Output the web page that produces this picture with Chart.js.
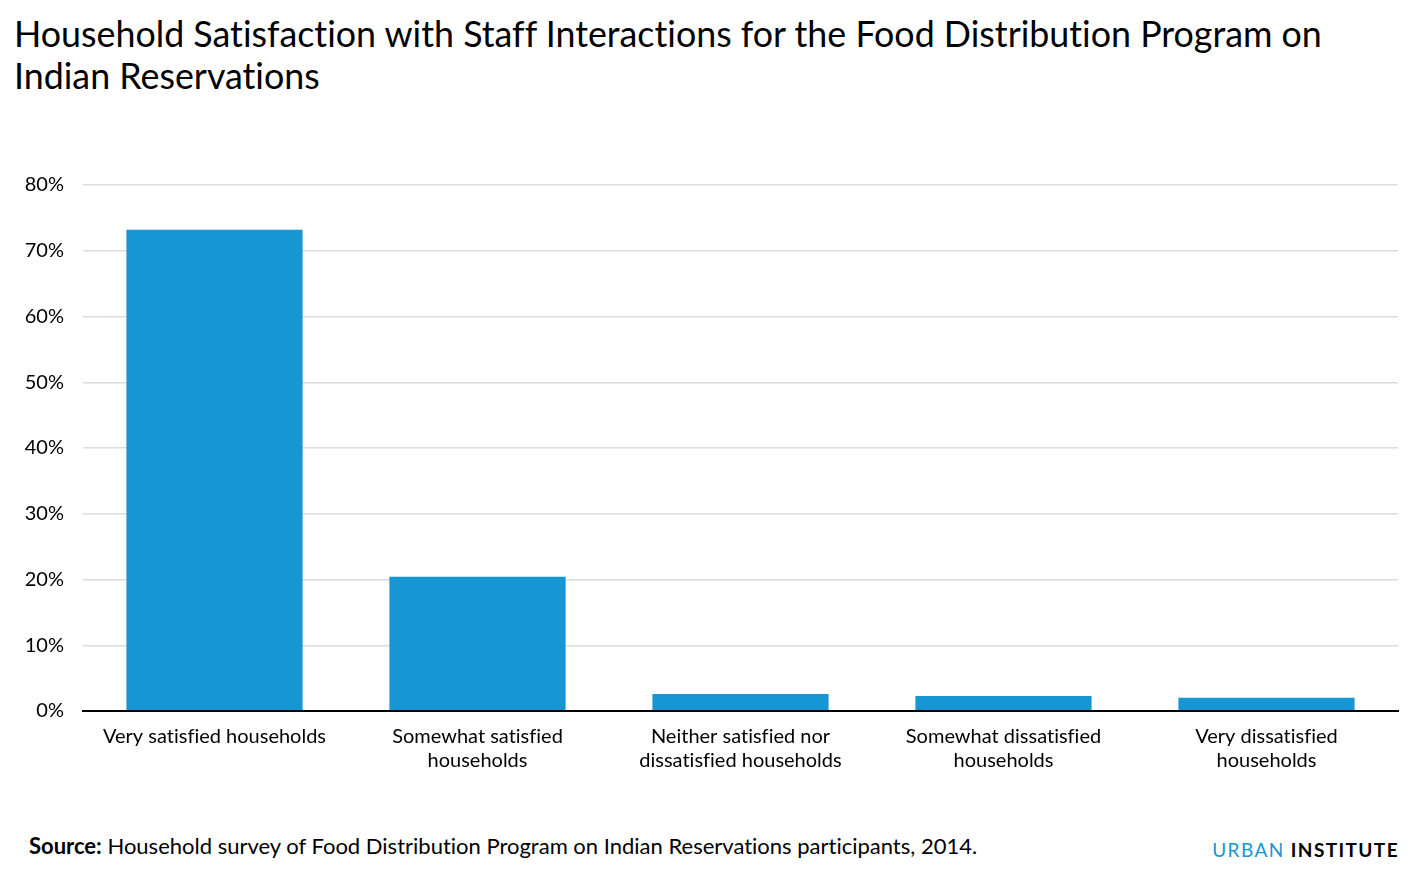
<!DOCTYPE html>
<html>
<head>
<meta charset="utf-8">
<script src="https://cdn.jsdelivr.net/npm/chart.js@4"></script>
<style>
  body { margin: 0; background: #fff; font-family: Lato, sans-serif; width: 1416px; height: 882px; position: relative; overflow: hidden; font-variant-ligatures: none; }
  #title { position: absolute; left: 14px; top: 13px; font-size: 35.8px; line-height: 42px; color: #000; }
  #wrap { position: absolute; left: 0; top: 154px; width: 1416px; height: 636px; }
  #source { position: absolute; left: 29px; top: 832px; font-size: 22px; color: #000; }
  #brand { position: absolute; right: 17px; top: 838px; font-size: 19px; letter-spacing: 1.4px; }
</style>
</head>
<body>
<div id="title">Household Satisfaction with Staff Interactions for the Food Distribution Program on<br>Indian Reservations</div>
<div id="wrap"><canvas id="myChart"></canvas></div>
<div id="source"><b>Source:</b> Household survey of Food Distribution Program on Indian Reservations participants, 2014.</div>
<div id="brand"><span style="color:#1696d2">URBAN</span> <b style="color:#000">INSTITUTE</b></div>
<script>
// categories (multi-line like the original)
    const labels = [
      ["Very satisfied households"],
      ["Somewhat satisfied", "households"],
      ["Neither satisfied nor", "dissatisfied households"],
      ["Somewhat dissatisfied", "households"],
      ["Very dissatisfied", "households"]
    ];

// share of households, percent
    const satisfaction = [73.2, 20.4, 2.6, 2.3, 2.0];

// y axis ticks
    const yTicks = [0, 10, 20, 30, 40, 50, 60, 70, 80];

    const BLUE = '#1696d2';

    const data = {
      labels: labels,
      datasets: [
        {
          label: 'Households',
          data: satisfaction,
          backgroundColor: BLUE,
          borderWidth: 0,
          categoryPercentage: 1,
          barPercentage: 0.67
        }
      ]
    };

    const config = {
      type: 'bar',
      data: data,
      options: {
        responsive: false,
        animation: false,
        devicePixelRatio: 1,
        layout: { padding: { top: 13, right: 18, left: 0, bottom: 0 } },
        plugins: {
          legend: { display: false },
          tooltip: { enabled: false }
        },
        scales: {
          x: {
            grid: { display: false, drawTicks: false },
            border: { display: true, color: '#000', width: 2 },
            ticks: {
              color: '#000',
              padding: 14,
              maxRotation: 0,
              autoSkip: false,
              font: { family: 'Lato', size: 20, lineHeight: 1.2 }
            },
            afterFit: function (s) { s.height = 79; }
          },
          y: {
            min: 0,
            max: 80,
            afterBuildTicks: function (s) { s.ticks = yTicks.map(v => ({ value: v })); },
            grid: {
              drawTicks: false,
              color: ctx => ctx.tick && ctx.tick.value === 0 ? '#000' : '#dcdcdc',
              lineWidth: ctx => ctx.tick && ctx.tick.value === 0 ? 2 : 1.5
            },
            border: { display: false },
            ticks: {
              color: '#000',
              padding: 19,
              font: { family: 'Lato', size: 20 },
              callback: v => v + '%'
            },
            afterFit: function (s) { s.width = 83; }
          }
        }
      }
    };

    const canvas = document.getElementById('myChart');
    canvas.width = 1416;
    canvas.height = 636;
    const myChart = new Chart(canvas, config);
</script>
</body>
</html>
